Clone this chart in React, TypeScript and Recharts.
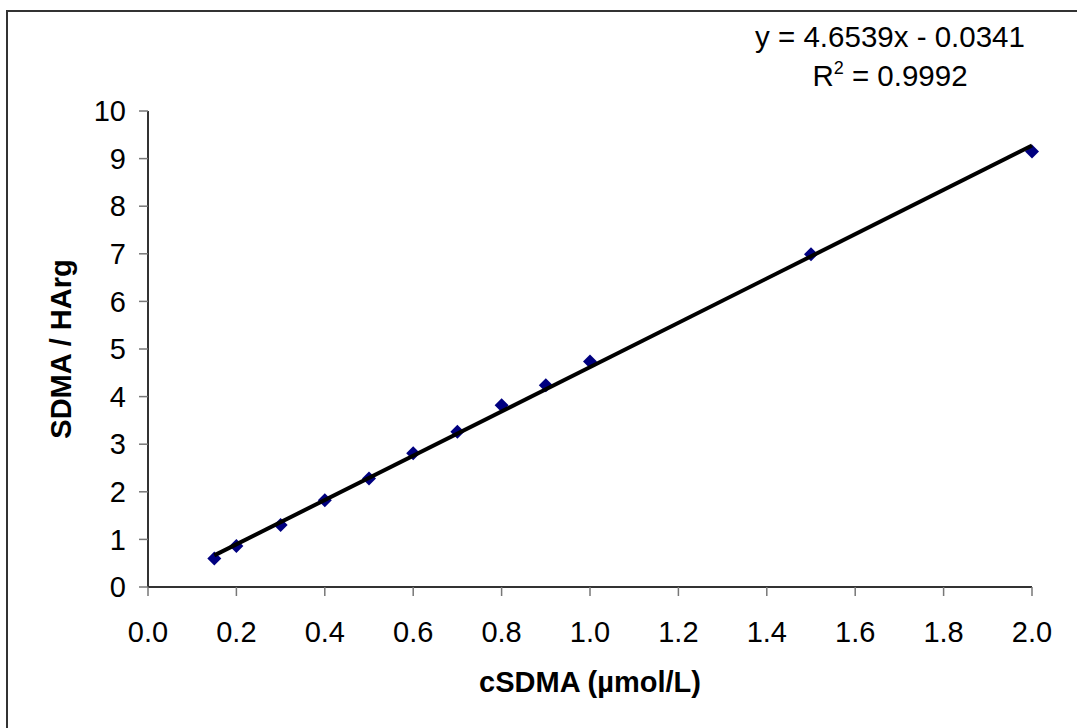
import { ScatterChart, Scatter, XAxis, YAxis } from "recharts";

const concentrations = [0.15, 0.2, 0.3, 0.4, 0.5, 0.6, 0.7, 0.8, 0.9, 1.0, 1.5, 2.0];
const ratios = [0.6, 0.86, 1.3, 1.82, 2.28, 2.81, 3.26, 3.82, 4.24, 4.74, 6.99, 9.15];

// trendline endpoints (y = 4.6539x - 0.0341)
const trendX = [0.15, 2.0];
const trendY = [0.664, 9.274];

const xTicks = [0, 0.2, 0.4, 0.6, 0.8, 1.0, 1.2, 1.4, 1.6, 1.8, 2.0];
const yTicks = [0, 1, 2, 3, 4, 5, 6, 7, 8, 9, 10];

const points = concentrations.map((x, i) => ({ x, y: ratios[i] }));
const trend = trendX.map((x, i) => ({ x, y: trendY[i] }));

const font = "'Liberation Sans', Arial, sans-serif";

const Diamond = (props: any) => {
  const { cx, cy } = props;
  const r = 7;
  return (
    <polygon
      points={`${cx},${cy - r} ${cx + r},${cy} ${cx},${cy + r} ${cx - r},${cy}`}
      fill="#000080"
    />
  );
};

const XTitle = (props: any) => {
  const { x, y, width } = props.viewBox;
  return (
    <text x={x + width / 2} y={y + 105} textAnchor="middle" fontFamily={font} fontWeight="bold" fontSize={29} fill="#000">
      cSDMA (µmol/L)
    </text>
  );
};

const YTitle = (props: any) => {
  const { y, height } = props.viewBox;
  const cx = 71;
  const cy = y + height / 2;
  return (
    <text x={cx} y={cy} transform={`rotate(-90, ${cx}, ${cy})`} textAnchor="middle" fontFamily={font} fontWeight="bold" fontSize={29} fill="#000">
      SDMA / HArg
    </text>
  );
};

export default function App() {
  return (
    <div style={{ position: "absolute", left: 0, top: 0, width: 1077, height: 728, overflow: "hidden", background: "#fff" }}>
      <div style={{ position: "absolute", left: 6, top: 10, width: 1200, height: 900, borderLeft: "2px solid #333", borderTop: "2px solid #333" }} />
      <div style={{ position: "absolute", left: 0, top: 0 }}>
        <ScatterChart width={1077} height={728} margin={{ top: 111, right: 45, bottom: 0, left: 0 }}>
          <XAxis
            type="number"
            dataKey="x"
            domain={[0, 2]}
            ticks={xTicks}
            interval={0}
            height={141}
            tickFormatter={(v: number) => v.toFixed(1)}
            axisLine={{ stroke: "#333", strokeWidth: 2 }}
            tickLine={{ stroke: "#777", strokeWidth: 1.5 }}
            tickSize={9}
            tickMargin={25}
            tick={{ fontSize: 29, fill: "#000", fontFamily: font }}
            label={{ content: XTitle }}
          />
          <YAxis
            type="number"
            dataKey="y"
            domain={[0, 10]}
            ticks={yTicks}
            interval={0}
            width={148}
            axisLine={{ stroke: "#333", strokeWidth: 2 }}
            tickLine={{ stroke: "#777", strokeWidth: 1.5 }}
            tickSize={9}
            tickMargin={13}
            tick={{ fontSize: 29, fill: "#000", fontFamily: font }}
            label={{ content: YTitle }}
          />
          <Scatter data={points} shape={Diamond} isAnimationActive={false} />
          <Scatter
            data={trend}
            line={{ stroke: "#000", strokeWidth: 4 }}
            shape={() => <g />}
            isAnimationActive={false}
          />
        </ScatterChart>
      </div>
      <svg style={{ position: "absolute", left: 0, top: 0 }} width={1077} height={728} pointerEvents="none">
        <text x={890} y={47} textAnchor="middle" fontFamily={font} fontSize={29.5} fill="#000">
          y = 4.6539x - 0.0341
        </text>
        <text x={890} y={86} textAnchor="middle" fontFamily={font} fontSize={29.5} fill="#000">
          R<tspan dy={-12} fontSize={18}>2</tspan>
          <tspan dy={12}> = 0.9992</tspan>
        </text>
      </svg>
    </div>
  );
}
